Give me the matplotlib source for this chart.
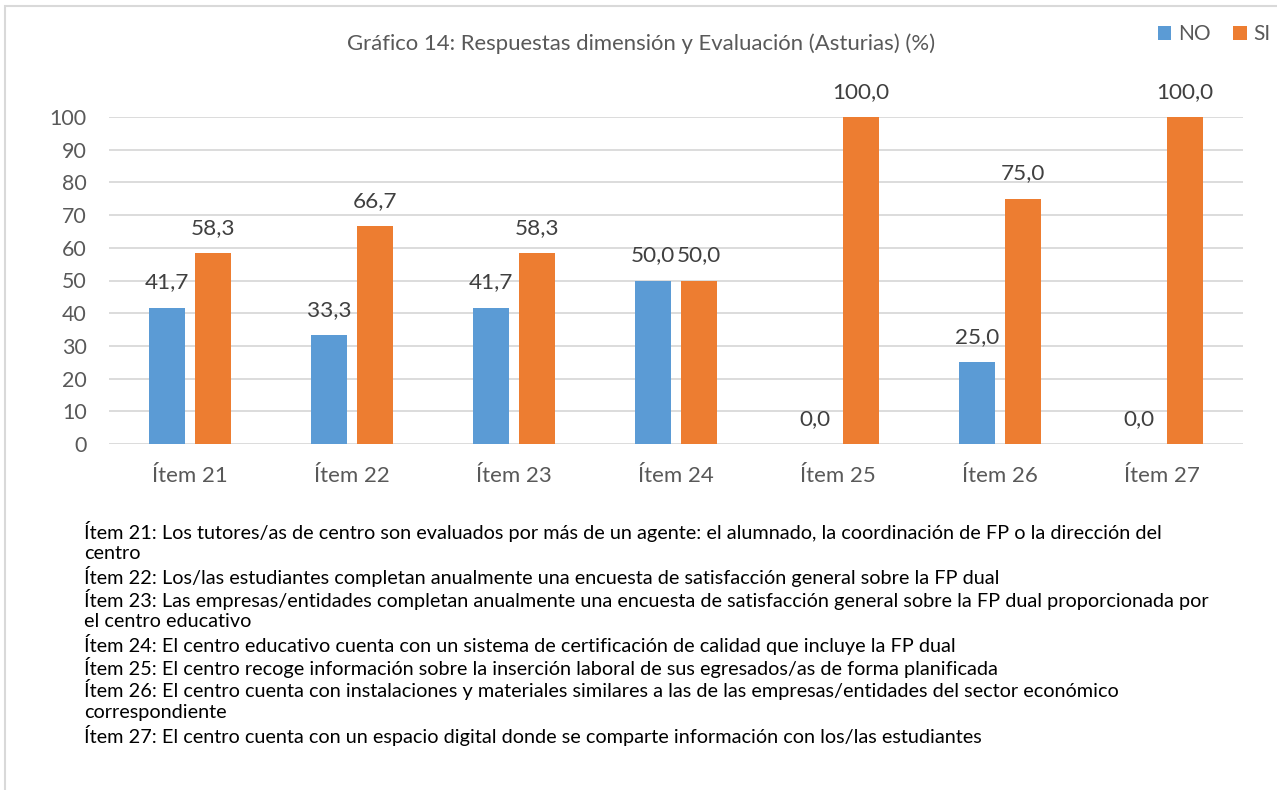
import matplotlib.pyplot as plt
import numpy as np
from matplotlib.patches import Rectangle

plt.rcParams['font.family'] = ['Lato', 'DejaVu Sans']

# Data
items = ['Ítem 21', 'Ítem 22', 'Ítem 23', 'Ítem 24', 'Ítem 25', 'Ítem 26', 'Ítem 27']
no_vals = [41.7, 33.3, 41.7, 50.0, 0.0, 25.0, 0.0]
si_vals = [58.3, 66.7, 58.3, 50.0, 100.0, 75.0, 100.0]

notes = [
    'Ítem 21: Los tutores/as de centro son evaluados por más de un agente: el alumnado, la coordinación de FP o la dirección del\ncentro',
    'Ítem 22: Los/las estudiantes completan anualmente una encuesta de satisfacción general sobre la FP dual',
    'Ítem 23: Las empresas/entidades completan anualmente una encuesta de satisfacción general sobre la FP dual proporcionada por\nel centro educativo',
    'Ítem 24: El centro educativo cuenta con un sistema de certificación de calidad que incluye la FP dual',
    'Ítem 25: El centro recoge información sobre la inserción laboral de sus egresados/as de forma planificada',
    'Ítem 26: El centro cuenta con instalaciones y materiales similares a las de las empresas/entidades del sector económico\ncorrespondiente',
    'Ítem 27: El centro cuenta con un espacio digital donde se comparte información con los/las estudiantes',
]

blue = '#5B9BD5'
orange = '#ED7D31'
gray_txt = '#595959'

fig = plt.figure(figsize=(12.77, 7.9), dpi=100)
fig.patches.append(Rectangle((5 / 1277, -0.2), 1.2, 1.2 - 6 / 790, transform=fig.transFigure,
                             fill=False, edgecolor='#D9D9D9', linewidth=1.5))

ax = fig.add_axes([109 / 1277, 1 - 444 / 790, 1134 / 1277, 327 / 790])

x = np.arange(len(items))
w = 0.222
off = 0.142
b1 = ax.bar(x - off, no_vals, w, color=blue, label='NO', zorder=3)
b2 = ax.bar(x + off, si_vals, w, color=orange, label='SI', zorder=3)

for bars, vals in ((b1, no_vals), (b2, si_vals)):
    for bar, v in zip(bars, vals):
        ax.annotate(f'{v:.1f}'.replace('.', ','), (bar.get_x() + bar.get_width() / 2, v),
                    xytext=(0, 11), textcoords='offset points', ha='center', va='bottom',
                    fontsize=16.2, color='#404040')

ax.set_xlim(-0.5, len(items) - 0.5)
ax.set_ylim(0, 100)
ax.set_yticks(range(0, 101, 10))
ax.grid(axis='y', color='#D9D9D9', linewidth=1.3, zorder=0)
for s in ax.spines.values():
    s.set_visible(False)
ax.tick_params(axis='both', length=0, labelcolor=gray_txt)
ax.tick_params(axis='y', pad=16, labelsize=15.4)
ax.tick_params(axis='x', pad=16, labelsize=16)
ax.set_xticks(x)
ax.set_xticklabels(items)

fig.text(641 / 1277, 1 - 44 / 790, 'Gráfico 14: Respuestas dimensión y Evaluación (Asturias) (%)',
         ha='center', va='center', fontsize=15.9, color=gray_txt)

fig.legend(handles=[b1, b2], loc='center', bbox_to_anchor=(1214 / 1277, 1 - 34 / 790),
           ncol=2, frameon=False, fontsize=15, labelcolor=gray_txt,
           handlelength=0.65, handleheight=0.65, handletextpad=0.3, columnspacing=1.1)

y = 1 - 531 / 790
step = 22.7 / 790
for note in notes:
    for line in note.split('\n'):
        fig.text(84 / 1277, y, line, ha='left', va='center', fontsize=14.3, color='black')
        y -= step

fig.savefig('out.png', dpi=100)
